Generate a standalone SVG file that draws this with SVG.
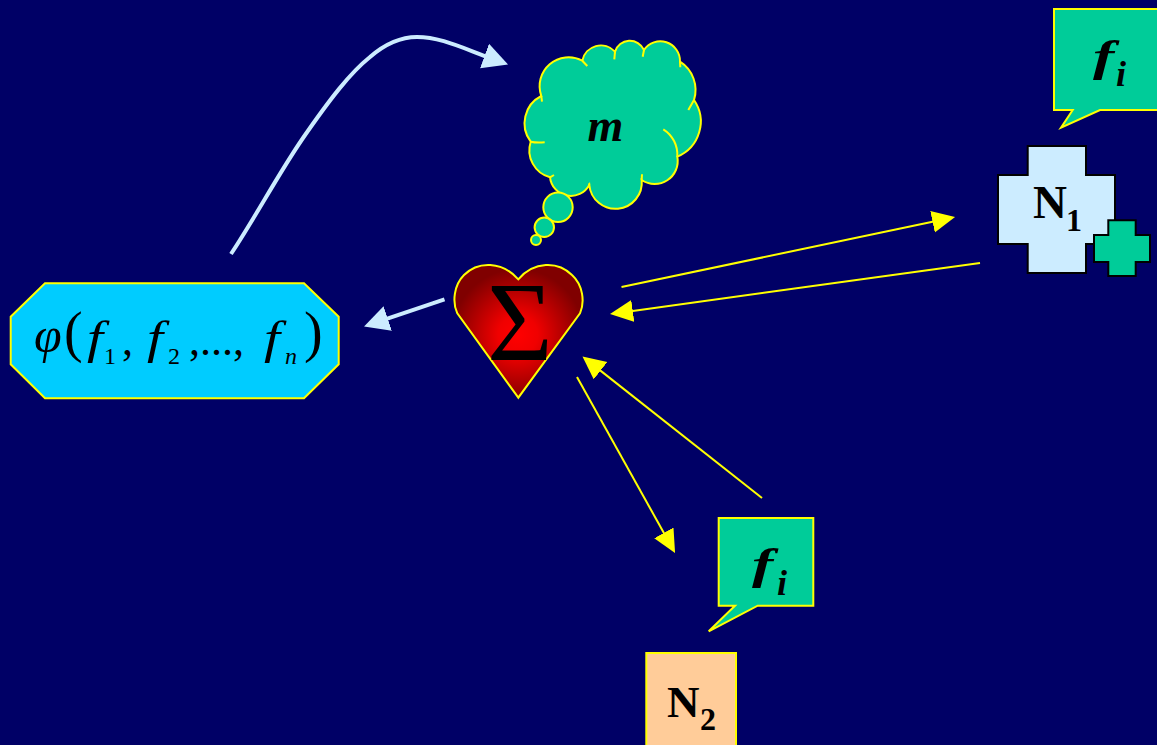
<svg xmlns="http://www.w3.org/2000/svg" width="1157" height="745" viewBox="0 0 1157 745">
<style>
.t{font-family:"Liberation Serif","Times New Roman",serif;fill:#000}
.bi{font-weight:bold;font-style:italic}
.b{font-weight:bold}
.i{font-style:italic}
.y{fill:#00CC99;stroke:#FFFF00;stroke-width:2}
.hook{fill:none;stroke:#FFFF00;stroke-width:2}
.ya{fill:none;stroke:#FFFF00;stroke-width:2;marker-end:url(#ah-y)}
.la{fill:none;stroke:#CCECFF;stroke-width:4;marker-end:url(#ah-l)}
</style>
<defs>
<marker id="ah-y" markerUnits="userSpaceOnUse" markerWidth="24" markerHeight="24" refX="11" refY="11" orient="auto"><path d="M0 0L23 11L0 22Z" fill="#FFFF00"/></marker>
<marker id="ah-l" markerUnits="userSpaceOnUse" markerWidth="28" markerHeight="28" refX="9" refY="13" orient="auto"><path d="M0 0L25 13L0 26Z" fill="#CCECFF"/></marker>
<radialGradient id="hg" gradientUnits="userSpaceOnUse" cx="518" cy="335" r="66"><stop offset="0" stop-color="#FF0000"/><stop offset="0.3" stop-color="#F00000"/><stop offset="1" stop-color="#800000"/></radialGradient>
</defs>
<rect width="1157" height="745" fill="#000066"/>
<g id="connectors">
<path class="la" d="M231 254C255 218 277 176 303 138C330 99 350 73 370 57C385 44 400 37 417 37C440 37 460 47 493 59"/>
<line class="la" x1="444.500" y1="299.300" x2="379.200" y2="321.400"/>
<line class="ya" x1="621.500" y1="287" x2="943.300" y2="219.500"/>
<line class="ya" x1="980" y1="263" x2="621.900" y2="312.400"/>
<line class="ya" x1="762" y1="498" x2="591.900" y2="363.900"/>
<line class="ya" x1="577" y1="377" x2="669.200" y2="542.500"/>
</g>
<g id="node-m">
<path class="y" d="M541.300 96A29 29 0 0 1 582.300 60.700A19 19 0 0 1 615 51.700A15.500 15.500 0 0 1 644 50A19.700 19.700 0 0 1 680 61.700A33.500 33.500 0 0 1 694 100A38 38 0 0 1 677.300 156.700A23 23 0 0 1 641.700 180A26.300 26.300 0 0 1 589.300 185A21 21 0 0 1 550 177.300A28 28 0 0 1 530.700 141.700A30.600 30.600 0 0 1 541.300 96Z"/>
<path class="hook" d="M541.300 96L542 101.700M582.300 60.700L587.300 66M615 51.700L614.300 59.300M644 50L642.700 56.700M680 61.700L680.300 67.300M694 100L688.300 110M677.300 156.700A30 30 0 0 0 663.300 129.300M641.700 180L642 174.300M589.300 185L589 183.300M550 177.300L554 175M530.700 141.700Q536 143 544.700 142.300"/>
<circle class="y" cx="558" cy="207.300" r="14.700"/>
<circle class="y" cx="544.300" cy="227.300" r="9.700"/>
<circle class="y" cx="536" cy="240" r="5"/>
<text class="t bi" x="605.500" y="141" font-size="46" text-anchor="middle">m</text>
</g>
<g id="node-fi-1">
<path class="y" d="M1054 9H1170V110H1100L1061 127.700L1072.700 110H1054Z"/>
<text class="t bi" transform="translate(1093 71) scale(1.45 1)" font-size="44">f</text>
<text class="t bi" x="1116" y="86" font-size="36">i</text>
</g>
<g id="node-n1">
<path d="M1027.700 146H1086V175H1115V244H1086V273H1027.700V244H998V175H1027.700Z" fill="#CCECFF" stroke="#000" stroke-width="2"/>
<text class="t b" x="1033" y="218" font-size="47">N</text>
<text class="t b" x="1066" y="231" font-size="32">1</text>
<path d="M1108.300 220.300H1135.700V235H1150V262H1135.700V276H1108.300V262H1094V235H1108.300Z" fill="#00CC99" stroke="#000" stroke-width="2"/>
</g>
<g id="node-phi">
<path d="M45 283.300H304L338.700 316.700V364.300L304 398.300H45L10.700 364.300V316.700Z" fill="#00CCFF" stroke="#FFFF00" stroke-width="2"/>
<text class="t i" x="34" y="352" font-size="50">φ</text>
<text class="t" x="64" y="351" font-size="56">(</text>
<text class="t i" transform="translate(87 353) scale(1.25 1)" font-size="46">f</text>
<text class="t" x="104" y="364" font-size="24">1</text>
<text class="t" x="122" y="355" font-size="44">,</text>
<text class="t i" transform="translate(147 353) scale(1.25 1)" font-size="46">f</text>
<text class="t" x="168" y="364" font-size="24">2</text>
<text class="t" x="189" y="355" font-size="44">,...,</text>
<text class="t i" transform="translate(264 353) scale(1.25 1)" font-size="46">f</text>
<text class="t i" x="285" y="364" font-size="24">n</text>
<text class="t" x="304" y="351" font-size="56">)</text>
</g>
<g id="node-sum">
<path d="M518.300 397.700L457.300 313.300C452 302 454 285 464 275C478 261 502 261 518.300 279.300C534 261 558 261 572 275C583 285 585 302 580 313.300Z" fill="url(#hg)" stroke="#FFFF00" stroke-width="2"/>
<text class="t" x="520" y="360" font-size="113" text-anchor="middle">Σ</text>
</g>
<g id="node-fi-2">
<path class="y" d="M718.700 518H813.300V605.700H757.700L708.700 631.300L735 605.700H718.700Z"/>
<text class="t bi" transform="translate(752 579) scale(1.45 1)" font-size="44">f</text>
<text class="t bi" x="777" y="595" font-size="36">i</text>
</g>
<g id="node-n2">
<rect x="646.300" y="653" width="89.700" height="100" fill="#FFCC99" stroke="#FFFF00" stroke-width="2"/>
<text class="t b" x="667" y="717" font-size="45">N</text>
<text class="t b" x="700" y="730" font-size="32">2</text>
</g>
</svg>
